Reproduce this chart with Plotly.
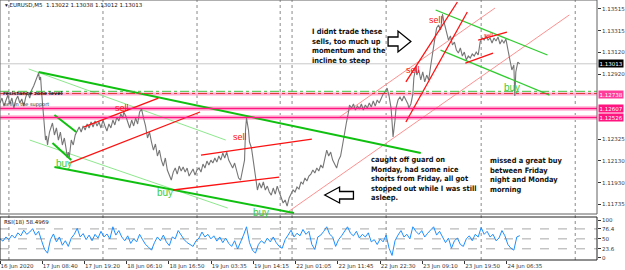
import plotly.graph_objects as go

# ---------------- data ----------------
price_bar = [0, 6, 12, 18, 24, 30, 36, 42, 48, 54, 60, 66, 72, 78, 84, 90, 96, 102, 108, 114, 117, 120, 123, 126, 129, 132, 135, 138, 141, 144,
             150, 156, 159, 165, 171, 177, 183, 189, 195, 201, 204, 207, 210, 216, 222, 228, 234, 240, 246, 252, 258, 264, 270, 276, 282, 288,
             294, 300, 306, 312, 318, 324, 330, 336, 342, 348, 354, 360, 366, 372, 375, 381, 387, 393, 399, 405, 411, 417, 423, 429, 435, 441,
             447, 453, 459, 465, 471, 477, 483, 489, 495, 501, 507, 513, 519, 525, 531, 537, 543, 549, 555, 561, 567, 573, 579, 585, 591, 597,
             603, 609, 615, 621, 627, 633, 639, 645, 651, 657, 663, 669, 675, 681, 687, 693, 699, 705, 711, 717, 723, 729, 735, 741, 744, 747,
             753, 756, 762, 765, 771, 777, 780, 786, 792, 798, 804, 810, 816, 822, 828, 834, 840, 846, 852, 858, 864, 870, 876, 882, 888, 894,
             900, 906, 912, 918, 924, 930, 936, 942, 948, 954, 960, 966, 972, 978, 984, 990, 996, 1002, 1008, 1014, 1020, 1026, 1032, 1038,
             1044, 1050, 1056, 1059, 1065, 1071, 1077, 1083, 1089, 1095, 1101, 1107, 1113, 1119, 1125, 1131, 1137, 1143, 1149, 1155, 1161,
             1167, 1173, 1179, 1185, 1188, 1191, 1197, 1200, 1206, 1212, 1218, 1224, 1230, 1236, 1239, 1245, 1251, 1254, 1260, 1263, 1269,
             1275, 1281, 1287, 1293, 1299, 1305, 1311, 1317, 1323, 1329, 1335, 1341, 1344, 1350, 1356, 1359, 1365, 1371, 1377, 1383, 1389,
             1395, 1401, 1407, 1413, 1419, 1425, 1431, 1437, 1443, 1449, 1455, 1461, 1467, 1473, 1479, 1485, 1491, 1497, 1503, 1509, 1515,
             1521, 1527, 1533, 1539, 1545, 1551, 1557, 1560, 1563, 1569, 1575]
price_val = [1.12657, 1.12702, 1.12629, 1.12684, 1.12729, 1.12648, 1.12702, 1.12611, 1.12684, 1.12720, 1.12657, 1.12693, 1.12629, 1.12711,
             1.12757, 1.12702, 1.12775, 1.12811, 1.12866, 1.12902, 1.12929, 1.12866, 1.12893, 1.12757, 1.12638, 1.12520, 1.12411, 1.12320,
             1.12357, 1.12275, 1.12393, 1.12448, 1.12475, 1.12366, 1.12430, 1.12320, 1.12393, 1.12275, 1.12339, 1.12229, 1.12157, 1.12211,
             1.12166, 1.12320, 1.12275, 1.12366, 1.12411, 1.12439, 1.12393, 1.12448, 1.12411, 1.12466, 1.12430, 1.12484, 1.12439, 1.12493,
             1.12448, 1.12484, 1.12430, 1.12502, 1.12448, 1.12402, 1.12466, 1.12430, 1.12502, 1.12457, 1.12529, 1.12493, 1.12557, 1.12520,
             1.12575, 1.12539, 1.12484, 1.12430, 1.12502, 1.12448, 1.12520, 1.12466, 1.12575, 1.12602, 1.12520, 1.12448, 1.12339, 1.12393,
             1.12302, 1.12229, 1.12284, 1.12175, 1.12229, 1.12138, 1.12084, 1.12157, 1.12048, 1.12002, 1.11957, 1.12029, 1.12066, 1.12011,
             1.12084, 1.12039, 1.12075, 1.12029, 1.12066, 1.11993, 1.12029, 1.12057, 1.12002, 1.12048, 1.12066, 1.12029, 1.12102, 1.12066,
             1.12129, 1.12093, 1.12138, 1.12111, 1.12157, 1.12120, 1.12175, 1.12138, 1.12202, 1.12157, 1.12211, 1.12138, 1.12102, 1.12066,
             1.12111, 1.12029, 1.11975, 1.11957, 1.12048, 1.12138, 1.12411, 1.12520, 1.12411, 1.12302, 1.12248, 1.12184, 1.12093, 1.11975,
             1.11866, 1.11930, 1.11884, 1.11939, 1.11866, 1.11902, 1.11848, 1.11820, 1.11884, 1.11829, 1.11902, 1.11848, 1.11793, 1.11748,
             1.11775, 1.11720, 1.11793, 1.11829, 1.11866, 1.11848, 1.11893, 1.11875, 1.11939, 1.11920, 1.11975, 1.11948, 1.11993, 1.12011,
             1.12048, 1.12020, 1.12066, 1.12039, 1.12093, 1.12066, 1.12138, 1.12229, 1.12175, 1.12211, 1.12138, 1.12093, 1.12066, 1.12138,
             1.12175, 1.12275, 1.12393, 1.12484, 1.12575, 1.12638, 1.12611, 1.12648, 1.12593, 1.12629, 1.12602, 1.12648, 1.12593, 1.12638,
             1.12611, 1.12657, 1.12620, 1.12675, 1.12629, 1.12684, 1.12657, 1.12702, 1.12738, 1.12757, 1.12793, 1.12720, 1.12611, 1.12484,
             1.12348, 1.12502, 1.12611, 1.12684, 1.12711, 1.12675, 1.12720, 1.12684, 1.12648, 1.12611, 1.12648, 1.12738, 1.12884, 1.12984,
             1.12911, 1.12957, 1.12866, 1.12939, 1.12848, 1.12911, 1.12866, 1.12993, 1.13138, 1.13229, 1.13338, 1.13366, 1.13320, 1.13466,
             1.13411, 1.13338, 1.13284, 1.13229, 1.13266, 1.13184, 1.13211, 1.13138, 1.13111, 1.13157, 1.13084, 1.13120, 1.13048, 1.13084,
             1.13066, 1.13102, 1.13084, 1.13120, 1.13093, 1.13211, 1.13248, 1.13229, 1.13266, 1.13229, 1.13248, 1.13202, 1.13248, 1.13220,
             1.13257, 1.13193, 1.13229, 1.13202, 1.13238, 1.13157, 1.13048, 1.12957, 1.13002, 1.12720, 1.12939, 1.13029, 1.13013]

rsi_val = [50, 44, 55, 48, 60, 52, 66, 58, 73, 62, 68, 77, 60, 70, 45, 22, 12, 48, 63, 42, 55, 33, 45, 30, 52, 62, 78, 55, 64, 48,
           60, 45, 62, 52, 70, 55, 63, 50, 82, 60, 72, 55, 45, 58, 38, 50, 42, 62, 48, 35, 28, 20, 40, 55, 45, 60, 42, 32, 55, 50,
           72, 58, 48, 40, 35, 30, 45, 52, 68, 55, 62, 50, 58, 44, 55, 40, 52, 38, 30, 45, 23, 40, 60, 82, 40, 20, 12, 35, 45, 38,
           52, 42, 55, 40, 30, 25, 48, 60, 73, 55, 65, 58, 75, 62, 70, 35, 22, 55, 60, 70, 82, 62, 55, 30, 48, 58, 72, 82, 65, 58,
           70, 52, 62, 55, 66, 42, 48, 35, 50, 42, 60, 25, 6, 45, 60, 72, 55, 62, 50, 82, 70, 62, 72, 55, 65, 75, 82, 60, 70, 55,
           40, 52, 25, 45, 52, 35, 30, 50, 58, 45, 62, 55, 80, 62, 70, 55, 62, 45, 52, 72, 58, 35, 25, 20, 55, 58.4969]
rsi_step = 9
rsi_bar = list(range(0, rsi_step * len(rsi_val), rsi_step))

tick_bars = [0, 128, 256, 384, 512, 640, 768, 896, 1024, 1152, 1280, 1408, 1536]
tick_text = ["16 Jun 2020", "17 Jun 08:40", "17 Jun 19:20", "18 Jun 06:10", "18 Jun 16:50", "19 Jun 03:35",
             "19 Jun 14:15", "22 Jun 01:05", "22 Jun 11:45", "22 Jun 22:30", "23 Jun 09:10", "23 Jun 19:50", "24 Jun 06:35"]
day_sep_bars = [27, 312, 597, 849, 885, 1170, 1458, 1743]
price_ticks = [1.11735, 1.11930, 1.12130, 1.12325, 1.12920, 1.13120, 1.13315, 1.13515]
rsi_ticks = [0, 23.6, 50, 76.4, 100]
rsi_levels = [23.6, 50, 76.4]
main_levels = [1.12607, 1.12526]
top_level = 1.12738
last_price = 1.13013

# trend lines: (bar0, price0, bar1, price1)
green_thick = [(117, 1.12939, 1275, 1.12202), (165, 1.12075, 891, 1.11657),
               (165, 1.12548, 231, 1.12393), (159, 1.12293, 216, 1.12138)]
green_thin = [(87, 1.12966, 684, 1.12320), (90, 1.12320, 690, 1.11702)]
green_mid = [(1320, 1.13502, 1659, 1.13093), (1335, 1.13138, 1665, 1.12729)]
red_lines = [(255, 1.12439, 480, 1.12702), (210, 1.12111, 606, 1.12575),
             (609, 1.12184, 945, 1.12329), (525, 1.11866, 846, 1.11984),
             (1230, 1.12484, 1416, 1.13484), (1230, 1.12848, 1386, 1.13575),
             (1449, 1.13229, 1536, 1.13302), (1410, 1.13020, 1494, 1.13111)]
pink_lines = [(855, 1.11630, 1725, 1.13457), (1029, 1.12529, 1500, 1.13520)]

sell_labels = [(369, 1.12611, 9), (726, 1.12348, 9), (1251, 1.12957, 9), (1320, 1.13411, 9), (1479, 1.13275, 6)]
buy_labels = [(195, 1.12111), (501, 1.11839), (792, 1.11666), (1551, 1.12802)]

note1 = "I didnt trade these<br>sells, too much up<br>momentum and the<br>incline to steep"
note2 = "caught off guard on<br>Monday, had some nice<br>shorts from Friday, all got<br>stopped out while I was still<br>asleep."
note3 = "missed a great buy<br>between Friday<br>night and Monday<br>morning"
notes = [(939, 1.13366, note1), (1119, 1.12202, note2), (1479, 1.12193, note3)]

# ---------------- layout geometry ----------------
W, H = 625, 270
ML, MR, MT, MB = 0, 22, 0, 10
PW, PH = W - ML - MR, H - MT - MB
main_dom = [1 - 214 / PH, 1]
rsi_dom = [0, 1 - 217 / PH]
XMAX = 1809


def pp(x, y):
    return x / PW, 1 - y / PH


fig = go.Figure()


def add_lines(lines, color, width, dash=None):
    for b0, p0, b1, p1 in lines:
        fig.add_trace(go.Scatter(x=[b0, b1], y=[p0, p1], mode="lines",
                                 line=dict(color=color, width=width, dash=dash),
                                 xaxis="x", yaxis="y", hoverinfo="skip"))


add_lines(green_thin, "#8ee88e", 1)
add_lines(pink_lines, "#ff9090", 1)

# price
fig.add_trace(go.Scatter(x=price_bar, y=price_val, mode="lines",
                         line=dict(color="#767676", width=1.1), xaxis="x", yaxis="y"))

add_lines(green_thick, "#10c010", 2)
add_lines(green_mid, "#30cc30", 1.3)
add_lines(red_lines, "#ff1010", 1.3)

# RSI
fig.add_trace(go.Scatter(x=rsi_bar, y=rsi_val, mode="lines",
                         line=dict(color="#1e8fff", width=1), xaxis="x2", yaxis="y2"))

shapes = []
for b in day_sep_bars:
    shapes.append(dict(type="line", xref="x", yref="paper", x0=b, x1=b, y0=0, y1=1,
                       line=dict(color="#8a8a8a", width=1, dash="dot"), layer="below"))
shapes.append(dict(type="line", xref="paper", yref="y", x0=0, x1=1, y0=last_price, y1=last_price,
                   line=dict(color="#c8c8c8", width=1), layer="below"))
for lv in main_levels:
    shapes.append(dict(type="line", xref="paper", yref="y", x0=0, x1=1, y0=lv, y1=lv,
                       line=dict(color="#ffc4de", width=5), layer="below"))
    shapes.append(dict(type="line", xref="paper", yref="y", x0=0, x1=1, y0=lv, y1=lv,
                       line=dict(color="#ff1480", width=1.5)))
shapes.append(dict(type="line", xref="paper", yref="y", x0=0, x1=1, y0=top_level, y1=top_level,
                   line=dict(color="#ffb0d4", width=3), layer="below"))
shapes.append(dict(type="line", xref="paper", yref="y", x0=0, x1=1, y0=top_level + 0.00006, y1=top_level + 0.00006,
                   line=dict(color="#e03030", width=1, dash="dashdot")))
shapes.append(dict(type="line", xref="paper", yref="y", x0=0, x1=1, y0=top_level + 0.00025, y1=top_level + 0.00025,
                   line=dict(color="#40c040", width=1, dash="dashdot")))
for lv in rsi_levels:
    shapes.append(dict(type="line", xref="paper", yref="y2", x0=0, x1=1, y0=lv, y1=lv,
                       line=dict(color="#a8a8a8", width=1, dash="dash"), layer="below"))
_, mb = pp(0, 214)
shapes.append(dict(type="rect", xref="paper", yref="paper", x0=0, x1=1, y0=mb, y1=1,
                   line=dict(color="#606060", width=1)))
_, ra = pp(0, 217)
shapes.append(dict(type="rect", xref="paper", yref="paper", x0=0, x1=1, y0=0, y1=ra,
                   line=dict(color="#202020", width=1)))


def path(points):
    s = ""
    for i, (x, y) in enumerate(points):
        px, py = pp(x, y)
        s += ("M" if i == 0 else "L") + f"{px:.5f},{py:.5f} "
    return s + "Z"


right_arrow = [(392, 37), (402, 37), (402, 31), (415, 41.5), (402, 52), (402, 46), (392, 46)]
left_arrow = [(328, 195), (343, 187), (343, 191.5), (357, 191.5), (357, 199), (343, 199), (343, 203)]
for arr in (right_arrow, left_arrow):
    shapes.append(dict(type="path", xref="paper", yref="paper", path=path(arr),
                       fillcolor="white", line=dict(color="black", width=1.3)))

ann = []
for b, p, s in sell_labels:
    ann.append(dict(x=b, y=p, xref="x", yref="y", text="sell", showarrow=False,
                    font=dict(family="Liberation Sans", size=s, color="#ff1010")))
for b, p in buy_labels:
    ann.append(dict(x=b, y=p, xref="x", yref="y", text="buy", showarrow=False,
                    font=dict(family="Liberation Sans", size=10, color="#3ccc3c")))
for b, p, t in notes:
    ann.append(dict(x=b, y=p, xref="x", yref="y", text=t, showarrow=False, xanchor="left", yanchor="top",
                    align="left", font=dict(family="DejaVu Sans Condensed, DejaVu Sans", size=7.4, color="#111111",
                                            weight="bold")))
hx, hy = pp(3, 5)
ann.append(dict(x=hx, y=hy, xref="paper", yref="paper", text="▾ EURUSD,M5  1.13022 1.13038 1.13012 1.13013",
                showarrow=False, xanchor="left", yanchor="middle",
                font=dict(family="DejaVu Sans", size=5.5, color="#111")))
rx, ry = pp(2, 221.5)
ann.append(dict(x=rx, y=ry, xref="paper", yref="paper", text="RSI(18) 58.4969",
                showarrow=False, xanchor="left", yanchor="middle",
                font=dict(family="DejaVu Sans", size=5.5, color="#111")))
ann.append(dict(x=6, y=1.12640, xref="x", yref="y", text="sell in the support", showarrow=False,
                xanchor="left", font=dict(family="DejaVu Sans", size=5, color="#222")))
ann.append(dict(x=3, y=top_level + 0.00012, xref="x", yref="y", text="<b>resistance zone level</b>", showarrow=False,
                xanchor="left", font=dict(family="DejaVu Sans", size=5, color="#222")))
for lv, bg in ((top_level, "#ff3c9a"), (main_levels[0], "#ff1480"), (main_levels[1], "#ff1480"),
               (last_price, "#000000")):
    ann.append(dict(x=1, y=lv, xref="paper", yref="y", text=f"{lv:.5f}", showarrow=False,
                    xanchor="left", xshift=1, bgcolor=bg, borderpad=0.5,
                    font=dict(family="DejaVu Sans", size=5.5, color="white")))

fig.update_layout(
    width=W, height=H, margin=dict(l=ML, r=MR, t=MT, b=MB),
    paper_bgcolor="white", plot_bgcolor="white", showlegend=False,
    shapes=shapes, annotations=ann,
    xaxis=dict(domain=[0, 1], range=[0, XMAX], anchor="y", showgrid=False, zeroline=False,
               showticklabels=False, ticks=""),
    yaxis=dict(domain=main_dom, range=[1.11648, 1.13593], side="right", anchor="x",
               tickvals=price_ticks, ticktext=[f"{v:.5f}" for v in price_ticks],
               ticks="outside", ticklen=3, tickcolor="#333", showgrid=False, zeroline=False,
               tickfont=dict(family="DejaVu Sans", size=5.5, color="#333")),
    xaxis2=dict(domain=[0, 1], range=[0, XMAX], anchor="y2", showgrid=False, zeroline=False,
                tickvals=tick_bars, ticktext=tick_text, ticks="outside", ticklen=3, tickcolor="#333",
                ticklabelposition="outside right", tickangle=0,
                tickfont=dict(family="DejaVu Sans", size=5.5, color="#333")),
    yaxis2=dict(domain=rsi_dom, range=[-6.1, 108], side="right", anchor="x2",
                tickvals=rsi_ticks, ticktext=["0", "23.6", "50", "76.4", "100"],
                ticks="outside", ticklen=3, tickcolor="#333", showgrid=False, zeroline=False,
                tickfont=dict(family="DejaVu Sans", size=5.5, color="#333")),
)

fig.write_html("out.html")
